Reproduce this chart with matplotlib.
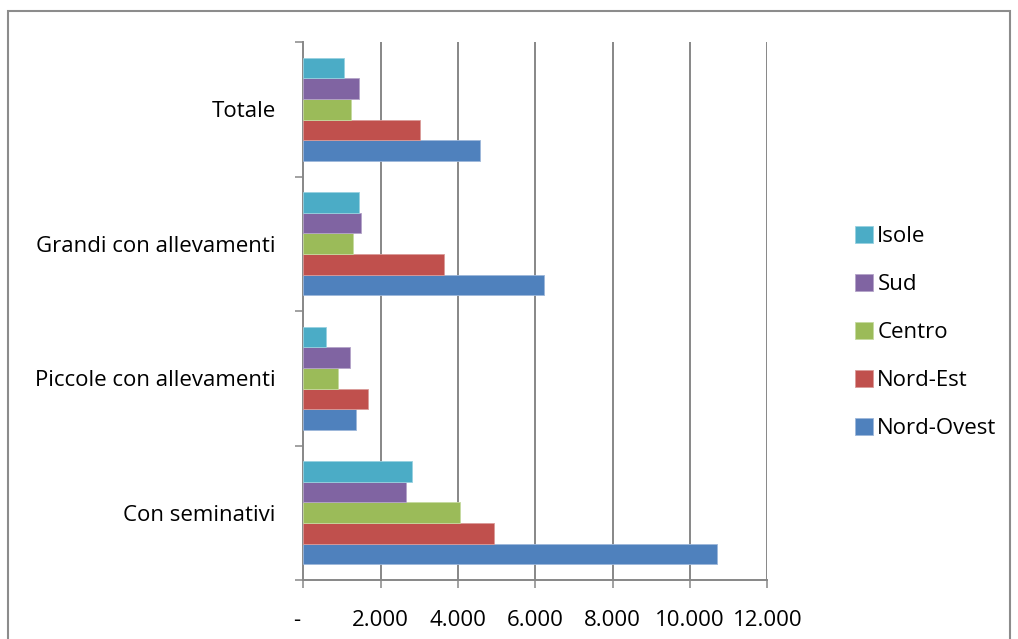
import matplotlib
matplotlib.use("Agg")
import matplotlib.pyplot as plt
import matplotlib.transforms as mtransforms
from matplotlib.ticker import FuncFormatter, FixedLocator
from matplotlib.patches import Patch, Rectangle
import numpy as np

categories = ["Con seminativi", "Piccole con allevamenti", "Grandi con allevamenti", "Totale"]
series_names = ["Nord-Ovest", "Nord-Est", "Centro", "Sud", "Isole"]
nord_ovest = [10710, 1370, 6230, 4570]
nord_est = [4935, 1680, 3640, 3020]
centro = [4055, 905, 1275, 1225]
sud = [2660, 1215, 1480, 1430]
isole = [2815, 595, 1430, 1060]
colors = ["#4F81BD", "#C0504D", "#9BBB59", "#8064A2", "#4BACC6"]
edge_colors = ["#9DB7DA", "#DA9A98", "#C6DAA0", "#B4A3C8", "#98D1E0"]
x_ticks = [0, 2000, 4000, 6000, 8000, 10000, 12000]

plt.rcParams["font.family"] = ["Open Sans", "DejaVu Sans"]

W, H = 1018, 639
fig = plt.figure(figsize=(W / 100, H / 100), dpi=100)
fig.patch.set_facecolor("white")

# outer chart-area frame
fig.add_artist(Rectangle((7.5 / W, -0.01), (1010 - 7.5) / W, 1 - 11 / H + 0.01,
                         transform=fig.transFigure, fill=False,
                         edgecolor="#8C8C8C", linewidth=1.5))

ax = fig.add_axes([303.3 / W, 1 - 580 / H, (767.3 - 303.3) / W, (580 - 42) / H])

values = [nord_ovest, nord_est, centro, sud, isole]
y = np.arange(len(categories))
bar_h = 0.153
n = len(series_names)
for i, (vals, name) in enumerate(zip(values, series_names)):
    offset = (i - (n - 1) / 2) * bar_h
    ax.barh(y + offset, vals, height=bar_h, color=colors[i],
            edgecolor=edge_colors[i], linewidth=0.6, label=name, zorder=3)

ax.set_xlim(0, 12000)
ax.set_ylim(-0.5, len(categories) - 0.5)

grid_color = "#878787"
ax.xaxis.set_major_locator(FixedLocator(x_ticks))
for xv in x_ticks[1:]:
    ax.axvline(xv, color=grid_color, linewidth=1.4, zorder=1)

def fmt(v, pos):
    if v == 0:
        return "-"
    return f"{int(v):,}".replace(",", ".")

ax.xaxis.set_major_formatter(FuncFormatter(fmt))
ax.tick_params(axis="x", direction="out", length=5.5, width=1.1, color=grid_color,
               pad=16, labelsize=16, labelcolor="black")

ax.set_yticks(y)
ax.set_yticklabels(categories)
ax.set_yticks(np.arange(-0.5, len(categories)), minor=True)
ax.tick_params(axis="y", which="major", length=0, pad=20, labelsize=16, labelcolor="black")
ax.tick_params(axis="y", which="minor", direction="out", length=6, width=1.1, color=grid_color)

for side in ["top", "right"]:
    ax.spines[side].set_visible(False)
for side in ["left", "bottom"]:
    ax.spines[side].set_color(grid_color)
    ax.spines[side].set_linewidth(1.4)

# the zero label sits slightly left of its tick
fig.canvas.draw()
zero_lbl = ax.get_xticklabels()[0]
zero_lbl.set_transform(zero_lbl.get_transform() +
                       mtransforms.ScaledTranslation(-7 / 100, 0, fig.dpi_scale_trans))

handles = [Patch(facecolor=colors[i], edgecolor=edge_colors[i], linewidth=0.6)
           for i in range(n)][::-1]
labels = series_names[::-1]
fig.legend(handles, labels, loc="center left",
           bbox_to_anchor=(844 / W, 1 - 332.5 / H), frameon=False,
           fontsize=16, handlelength=0.8, handleheight=0.8,
           handletextpad=0.2, labelspacing=1.2, borderpad=0)

fig.savefig("out.png", dpi=100)
